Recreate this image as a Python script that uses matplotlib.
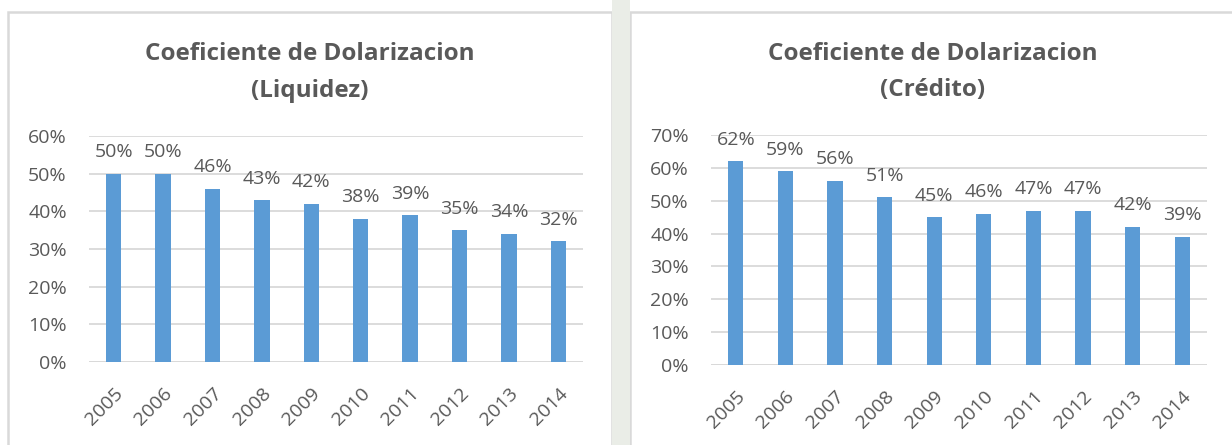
import matplotlib.pyplot as plt
from matplotlib.patches import Rectangle
from matplotlib.ticker import FuncFormatter

# ============================================================
#  Datos
# ============================================================
years = ["2005", "2006", "2007", "2008", "2009",
         "2010", "2011", "2012", "2013", "2014"]
liquidez = [50, 50, 46, 43, 42, 38, 39, 35, 34, 32]
credito = [62, 59, 56, 51, 45, 46, 47, 47, 42, 39]

BAR = "#5B9BD5"
TXT = "#595959"
GRID = "#D9D9D9"
FONT = ["Open Sans", "DejaVu Sans"]

plt.rcParams["font.family"] = FONT

W, H = 1232, 445
fig = plt.figure(figsize=(W / 100, H / 100), dpi=100)
fig.patch.set_facecolor("white")


def px(x0, y0, x1, y1):
    # pixel box (top-left origin) -> figure fraction
    return [x0 / W, 1 - y1 / H, (x1 - x0) / W, (y1 - y0) / H]


# gap strip between the two panels (faded background)
fig.patches.append(Rectangle((612 / W, 0), 18 / W, 1, transform=fig.transFigure,
                             facecolor="#EAEDE7", edgecolor="none", zorder=0))

# panel borders
for x0, x1 in [(8, 612), (630, 1240)]:
    fig.patches.append(Rectangle((x0 / W, -0.05), (x1 - x0) / W, 1 - 12 / H + 0.05,
                                 transform=fig.transFigure, facecolor="white",
                                 edgecolor=GRID, linewidth=1.8, zorder=-1))


def draw_panel(box, values, ymax, title, title_x, y1, y2):
    ax = fig.add_axes(px(*box))
    ax.set_zorder(5)
    x = range(len(values))
    ax.bar(x, values, width=0.31, color=BAR, zorder=3)
    ax.set_xlim(-0.5, len(values) - 0.5)
    ax.set_ylim(0, ymax)
    ax.set_yticks(range(0, ymax + 1, 10))
    ax.yaxis.set_major_formatter(FuncFormatter(lambda v, p: f"{v:.0f}%"))
    ax.set_xticks(list(x))
    ax.set_xticklabels(years, rotation=45, ha="right", rotation_mode="anchor")
    ax.tick_params(axis="both", length=0, labelsize=14, colors=TXT)
    ax.tick_params(axis="y", pad=16)
    ax.tick_params(axis="x", pad=16)
    ax.grid(True, axis="y", color=GRID, linewidth=1.3, zorder=0)
    for s in ax.spines.values():
        s.set_visible(False)
    ax.axhline(0, color=GRID, linewidth=1.3, zorder=2)
    ax.set_facecolor("none")
    for i, v in enumerate(values):
        ax.annotate(f"{v}%", (i, v), xytext=(0, 9), textcoords="offset points",
                    ha="center", va="bottom", fontsize=14, color=TXT)
    fig.text(title_x / W, 1 - y1 / H, "Coeficiente de Dolarizacion", ha="center",
             va="center", fontsize=17.5, fontweight="bold", color=TXT)
    fig.text(title_x / W, 1 - y2 / H, title, ha="center", va="center",
             fontsize=17.5, fontweight="bold", color=TXT)
    return ax


draw_panel((89, 136, 583, 362), liquidez, 60, "(Liquidez)", 310, 54, 91)
draw_panel((711, 135, 1207, 365), credito, 70, "(Crédito)", 933, 54, 90)

plt.savefig("out.png", dpi=100)
